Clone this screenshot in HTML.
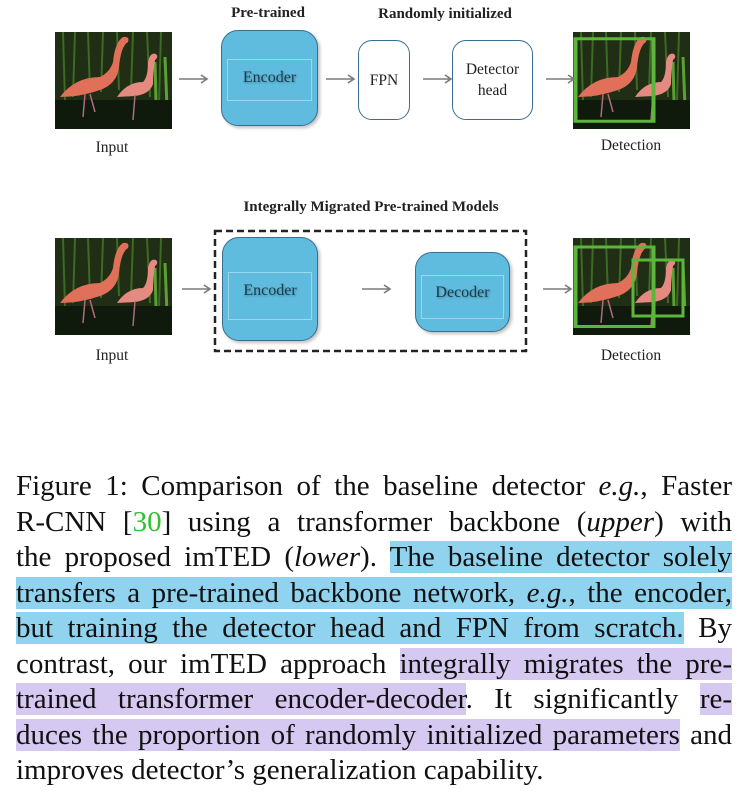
<!DOCTYPE html>
<html><head><meta charset="utf-8"><style>
body{margin:0;width:748px;height:809px;background:#fff;overflow:hidden;position:relative;font-family:"Liberation Serif",serif;}
.a{position:absolute}
.lbl{position:absolute;font-size:15.5px;color:#222;transform:translateX(-50%);white-space:nowrap}
.b{position:absolute;font-weight:bold;font-size:15px;color:#222;transform:translateX(-50%);white-space:nowrap}
.box{position:absolute;background:#5fbcde;border:1.5px solid #3a6e90;border-radius:17px;box-shadow:2px 2px 3px rgba(0,0,0,.25)}
.box .in{position:absolute;border:1px solid #9ad6ec;left:5px;right:5px}
.box span{position:absolute;left:0;right:0;text-align:center;font-size:16px;color:#1d3a4a;text-shadow:1px 1px 2px rgba(0,0,0,.3)}
.wb{position:absolute;background:#fff;border:1.3px solid #3a6e90;border-radius:14px;text-align:center;font-size:15.5px;color:#222;display:flex;align-items:center;justify-content:center;line-height:21px}
.cap{position:absolute;left:16px;width:716px;font-size:29px;line-height:35.5px;color:#111;top:469px}
.cap div{text-align:justify;text-align-last:justify;white-space:nowrap;height:35.5px}
.cap div.l{text-align-last:left}
.hb{background:#8fd3ef}.hp{background:#d5c8f1}
</style></head><body>
<svg width="0" height="0" style="position:absolute"><defs>
<symbol id="fl" viewBox="0 0 117 97">
<rect width="117" height="97" fill="#1f2e14"/>
<g stroke="#3e6a25" stroke-width="2"><line x1="8" y1="0" x2="10" y2="70"/><line x1="20" y1="0" x2="18" y2="65"/><line x1="33" y1="0" x2="35" y2="60"/><line x1="48" y1="0" x2="46" y2="60"/><line x1="62" y1="0" x2="64" y2="58"/><line x1="78" y1="0" x2="76" y2="60"/><line x1="92" y1="0" x2="95" y2="65"/><line x1="106" y1="0" x2="104" y2="70"/></g>
<g stroke="#5aa035" stroke-width="3"><line x1="110" y1="25" x2="112" y2="75"/><line x1="100" y1="30" x2="101" y2="70"/></g>
<rect y="68" width="117" height="29" fill="#101a0c"/>
<path d="M5 65 Q20 45 45 45 Q55 40 58 30 Q60 10 68 5 Q75 4 73 10 Q66 14 64 35 Q62 52 45 58 Q25 65 5 65Z" fill="#e0705a"/>
<path d="M62 65 Q72 50 88 50 Q93 45 93 30 Q95 20 101 22 Q104 25 100 28 Q98 40 98 52 Q95 62 80 64Z" fill="#e48a80"/>
<g stroke="#b06a80" stroke-width="1.5"><line x1="30" y1="62" x2="28" y2="85"/><line x1="35" y1="62" x2="40" y2="80"/><line x1="80" y1="63" x2="78" y2="88"/></g>
</symbol></defs></svg>

<div class="b" style="left:268px;top:5px">Pre-trained</div>
<div class="b" style="left:445px;top:6px">Randomly initialized</div>
<svg class="a" style="left:55px;top:32px" width="117" height="97"><use href="#fl"/></svg>
<div class="lbl" style="left:112px;top:139px">Input</div>
<div class="box" style="left:221px;top:30px;width:95px;height:94px"><div class="in" style="top:28px;height:40px"></div><span style="top:38px">Encoder</span></div>
<div class="wb" style="left:358px;top:40px;width:50px;height:78px">FPN</div>
<div class="wb" style="left:452px;top:40px;width:79px;height:78px">Detector<br>head</div>
<svg class="a" style="left:573px;top:32px" width="117" height="97"><use href="#fl"/><rect x="2.5" y="9" width="78" height="110" fill="none" stroke="#5cb63c" stroke-width="4" transform="scale(1,0.75)"/></svg>
<div class="lbl" style="left:631px;top:137px">Detection</div>

<svg class="a" style="left:0;top:0" width="748" height="400">
<g stroke="#7a7a7a" stroke-width="1.6" fill="none">
<path d="M179 79H207M201 75L207 79L201 83"/><path d="M326 79H354M348 75L354 79L348 83"/><path d="M423 79H451M445 75L451 79L445 83"/><path d="M546 79H574M568 75L574 79L568 83"/>
<path d="M182 289H210M204 285L210 289L204 293"/><path d="M362 289H390M384 285L390 289L384 293"/><path d="M543 289H571M565 285L571 289L565 293"/>
</g>
<rect x="215" y="231" width="311" height="120" fill="none" stroke="#222" stroke-width="2.5" stroke-dasharray="7,4"/>
</svg>
<div class="b" style="left:371px;top:199px">Integrally Migrated Pre-trained Models</div>
<svg class="a" style="left:55px;top:238px" width="117" height="97"><use href="#fl"/></svg>
<div class="lbl" style="left:112px;top:347px">Input</div>
<div class="box" style="left:222px;top:237px;width:94px;height:102px"><div class="in" style="top:34px;height:46px"></div><span style="top:44px">Encoder</span></div>
<div class="box" style="left:415px;top:252px;width:93px;height:78px"><div class="in" style="top:22px;height:42px"></div><span style="top:31px">Decoder</span></div>
<svg class="a" style="left:573px;top:238px" width="117" height="97"><use href="#fl"/><rect x="2.5" y="12" width="78" height="106" fill="none" stroke="#5cb63c" stroke-width="4" transform="scale(1,0.75)"/><rect x="60" y="22" width="50" height="56" fill="none" stroke="#5cb63c" stroke-width="3"/></svg>
<div class="lbl" style="left:631px;top:347px">Detection</div>

<div class="cap">
<div>Figure 1: Comparison of the baseline detector <i>e.g.</i>, Faster</div>
<div>R-CNN [<span style="color:#2fc12f">30</span>] using a transformer backbone (<i>upper</i>) with</div>
<div>the proposed imTED (<i>lower</i>). <span class="hb">The baseline detector solely</span></div>
<div><span class="hb">transfers a pre-trained backbone network, <i>e.g.</i>, the encoder,</span></div>
<div><span class="hb">but training the detector head and FPN from scratch.</span> By</div>
<div>contrast, our imTED approach <span class="hp">integrally migrates the pre-</span></div>
<div><span class="hp">trained transformer encoder-decoder</span>. It significantly <span class="hp">re-</span></div>
<div><span class="hp">duces the proportion of randomly initialized parameters</span> and</div>
<div class="l">improves detector’s generalization capability.</div>
</div>
</body></html>
